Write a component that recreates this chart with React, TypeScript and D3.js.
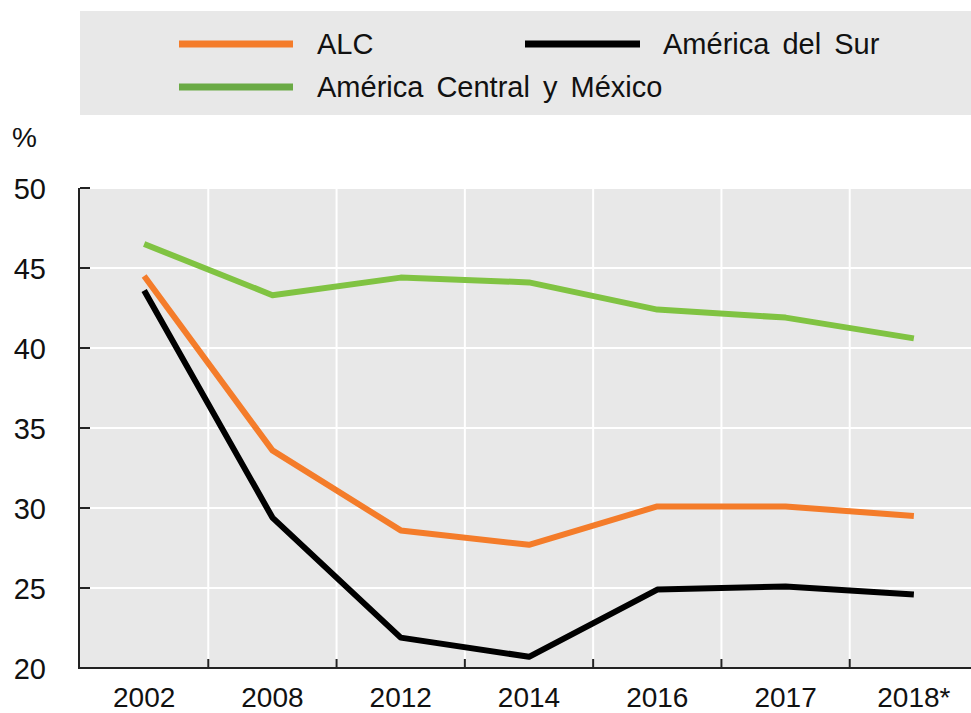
import React from 'react';
import * as d3 from 'd3';

const years = ['2002', '2008', '2012', '2014', '2016', '2017', '2018*'];
const alc = [44.5, 33.6, 28.6, 27.7, 30.1, 30.1, 29.5];
const centralMexico = [46.5, 43.3, 44.4, 44.1, 42.4, 41.9, 40.6];
const southAmerica = [43.6, 29.4, 21.9, 20.7, 24.9, 25.1, 24.6];
const yTicks = [20, 25, 30, 35, 40, 45, 50];

const series = [
  { name: 'ALC', values: alc, color: '#f47c2a' },
  { name: 'América Central y México', values: centralMexico, color: '#80c342' },
  { name: 'América del Sur', values: southAmerica, color: '#000000' },
];

export default function App() {
  const width = 971;
  const height = 713;
  const margin = { top: 188, right: -7, bottom: 45, left: 80 };

  // escalas
  const x = d3.scaleBand().domain(years).range([margin.left, width - margin.right]);
  const y = d3.scaleLinear().domain([20, 50]).range([height - margin.bottom, margin.top]);

  const line = d3.line<number>()
    .x((_, i) => x(years[i])! + x.bandwidth() / 2)
    .y(d => y(d));

  const font = 'Liberation Sans, Arial, sans-serif';
  const bottom = y(20);

  return (
    <svg width={width} height={height} style={{ position: 'absolute', left: 0, top: 0 }}>
      {/* leyenda */}
      <rect x={80} y={11} width={891} height={104} fill="#e8e8e8" />
      <line x1={179} x2={293} y1={44} y2={44} stroke={series[0].color} strokeWidth={7} />
      <text x={317} y={54} fontFamily={font} fontSize={29} fill="#111">ALC</text>
      <line x1={525} x2={640} y1={44} y2={44} stroke={series[2].color} strokeWidth={7} />
      <text x={663} y={54} fontFamily={font} fontSize={29} fill="#111" wordSpacing={5}>América del Sur</text>
      <line x1={179} x2={293} y1={87} y2={87} stroke="#6aaa45" strokeWidth={7} />
      <text x={317} y={97} fontFamily={font} fontSize={29} fill="#111" wordSpacing={5}>América Central y México</text>

      <text x={12} y={147} fontFamily={font} fontSize={28} fill="#111">%</text>

      {/* área del gráfico */}
      <rect x={margin.left} y={margin.top} width={width - margin.left} height={bottom - margin.top} fill="#e8e8e8" />
      {yTicks.map(t => (
        <g key={t}>
          <line x1={margin.left} x2={width} y1={y(t)} y2={y(t)} stroke="#fff" strokeWidth={2} />
          <line x1={margin.left} x2={margin.left + 10} y1={y(t)} y2={y(t)} stroke="#222" strokeWidth={2} />
          <text x={46} y={y(t) + 11} textAnchor="end" fontFamily={font} fontSize={29} fill="#111">{t}</text>
        </g>
      ))}
      {years.slice(1).map(yr => (
        <g key={yr}>
          <line x1={x(yr)} x2={x(yr)} y1={margin.top} y2={bottom} stroke="#fff" strokeWidth={2} />
          <line x1={x(yr)} x2={x(yr)} y1={bottom - 9} y2={bottom} stroke="#222" strokeWidth={2} />
        </g>
      ))}
      {years.map(yr => (
        <text key={yr} x={x(yr)! + x.bandwidth() / 2} y={707} textAnchor="middle" fontFamily={font} fontSize={28} fill="#111">{yr}</text>
      ))}
      <line x1={margin.left - 1} x2={margin.left - 1} y1={margin.top} y2={bottom + 1} stroke="#222" strokeWidth={2} />
      <line x1={margin.left - 2} x2={width} y1={bottom} y2={bottom} stroke="#222" strokeWidth={2} />
      <line x1={margin.left} x2={margin.left + 10} y1={margin.top} y2={margin.top} stroke="#222" strokeWidth={2} />

      {series.map(s => (
        <path key={s.name} d={line(s.values)!} fill="none" stroke={s.color} strokeWidth={6} strokeLinejoin="round" />
      ))}
    </svg>
  );
}
